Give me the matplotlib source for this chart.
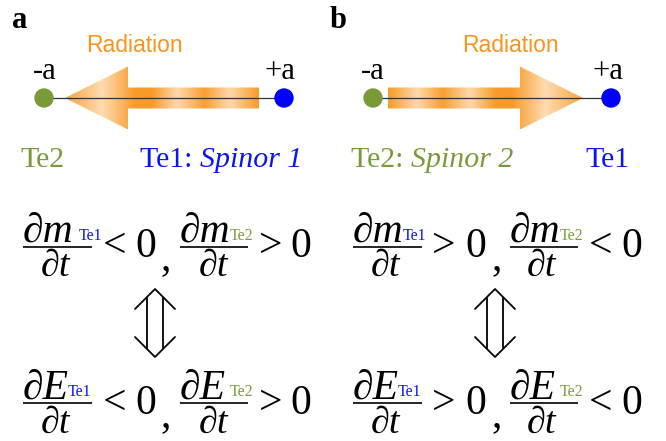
import numpy as np
import matplotlib
matplotlib.use('Agg')
import matplotlib.pyplot as plt
from matplotlib.patches import Polygon, Circle
from matplotlib.colors import LinearSegmentedColormap

# ---------------- content ----------------
panel_labels = ['a', 'b']
end_labels = ['-a', '+a']
radiation_label = 'Radiation'
radiation_dir = [-1, 1]                  # a: towards -a, b: towards +a
left_atom = [[('Te2', 'normal')], [('Te2: ', 'normal'), ('Spinor 2', 'italic')]]
right_atom = [[('Te1: ', 'normal'), ('Spinor 1', 'italic')], [('Te1', 'normal')]]
quantities = ['m', 'E']
subscripts = ['Te1', 'Te2']
relations = [['<', '>'], ['>', '<']]     # panel a, panel b (Te1, Te2)

BLUE = '#0a14f5'
GREEN = '#7a9a3a'
ORANGE = '#f7941d'
SERIF = ['Liberation Serif', 'DejaVu Serif']
SANS = ['Liberation Sans', 'DejaVu Sans']
EQ = 30
DEN = 27.5
SUB = 11.5

fig = plt.figure(figsize=(6.66, 4.41), dpi=100)
ax = fig.add_axes([0, 0, 1, 1])
ax.set_xlim(0, 666)
ax.set_ylim(441, 0)
ax.axis('off')


def txt(x, y, s, size, color='black', style='normal', ha='left', va='baseline',
        weight='normal', family=SERIF):
    return ax.text(x, y, s, fontsize=size, color=color, fontstyle=style, ha=ha, va=va,
                   fontweight=weight, family=family)


renderer = fig.canvas.get_renderer()


def pieces(x, y, parts, size, color):
    for s, st in parts:
        t = txt(x, y, s, size, color, style=st)
        bb = t.get_window_extent(renderer)
        x += bb.width


# gradient for the arrows
cmap = LinearSegmentedColormap.from_list('rad', ['#fee3c2', '#f89b2a'])
stops_pos = [0.0, 0.15, 0.28, 0.42, 0.55, 0.64, 0.81, 1.0]
stops_val = [1.0, 0.15, 0.95, 0.15, 1.0, 1.0, 0.1, 0.9]


def rad_arrow(tail, tip, yc=98, shaft_h=10.5, head_h=31.5, head_len=63):
    d = np.sign(tip - tail)
    base = tip - d * head_len
    pts = [(tail, yc - shaft_h), (base, yc - shaft_h), (base, yc - head_h), (tip, yc),
           (base, yc + head_h), (base, yc + shaft_h), (tail, yc + shaft_h)]
    poly = Polygon(pts, closed=True, facecolor='none', edgecolor='none')
    ax.add_patch(poly)
    n = 400
    f = np.linspace(0, 1, n)
    vals = np.interp(f, stops_pos, stops_val)
    if d < 0:
        vals = vals[::-1]
    x0, x1 = min(tail, tip), max(tail, tip)
    im = ax.imshow(vals[None, :], cmap=cmap, vmin=0, vmax=1, aspect='auto',
                   extent=(x0, x1, yc + head_h, yc - head_h), interpolation='bilinear',
                   zorder=1)
    im.set_clip_path(poly)


def frac(xl, xr, yline, sym, sub, subx, subcol, numx, denc):
    txt(numx, yline - 4.5, '\u2202' + sym, EQ, style='italic')
    txt(subx, yline - 6.5, sub, SUB, subcol)
    ax.plot([xl, xr], [yline, yline], color='black', lw=1.2, solid_capstyle='butt')
    txt(denc, yline + 29.5, '\u2202t', DEN, style='italic', ha='center')


def dbl_arrow(xc, ytop=289, ybot=357, hw=20, hh=20, sw=8):
    kw = dict(color='black', lw=1.3, solid_capstyle='round')
    ax.plot([xc - hw, xc, xc + hw], [ytop + hh, ytop, ytop + hh], **kw)
    ax.plot([xc - hw, xc, xc + hw], [ybot - hh, ybot, ybot - hh], **kw)
    ax.plot([xc - sw, xc - sw], [ytop + 9, ybot - 9], **kw)
    ax.plot([xc + sw, xc + sw], [ytop + 9, ybot - 9], **kw)


# ---------------- panel layout ----------------
panel_x = [12, 330]
rad_cx = [134, 510]
dots = [(44, 284), (373, 611)]
minus_x = [33, 361]
plus_x = [265, 593]
arrow_span = [(259, 65), (388, 583)]
left_x = [20, 351]
right_x = [140, 585]

for p in range(2):
    txt(panel_x[p], 28, panel_labels[p], 22, weight='bold')
    txt(rad_cx[p], 52, radiation_label, 16.5, ORANGE, ha='center', family=SANS)
    txt(minus_x[p], 79, end_labels[0], 22)
    txt(plus_x[p], 79, end_labels[1], 22)
    rad_arrow(*arrow_span[p])
    xl, xr = dots[p]
    ax.plot([xl, xr], [98, 98], color='#333333', lw=0.9, zorder=3)
    ax.add_patch(Circle((xl, 98), 9, color=GREEN, zorder=4))
    ax.add_patch(Circle((xr, 98), 9, color='#0000ff', zorder=4))
    pieces(left_x[p], 167, left_atom[p], 21.5, GREEN)
    pieces(right_x[p], 167, right_atom[p], 21.5, BLUE)

# equations: per panel, per row
eq_layout = {
    0: dict(f1=(23, 92, 56), f2=(180, 248, 213), sub1=[79, 68], sub2=[230, 230],
            r1=103, z1=135, cm=160, r2=259, z2=290, da=155),
    1: dict(f1=(353, 422, 386), f2=(510, 578, 542), sub1=[403, 398], sub2=[560, 560],
            r1=432, z1=465, cm=491, r2=589, z2=621, da=495),
}
row_y = [246.5, 403]

for p in range(2):
    L = eq_layout[p]
    for r, q in enumerate(quantities):
        y = row_y[r]
        xl, xr, dc = L['f1']
        frac(xl, xr, y, q, subscripts[0], L['sub1'][r], BLUE, xl, dc)
        txt(L['r1'], y + 10.5, relations[p][0], EQ)
        txt(L['z1'], y + 10.5, '0', EQ)
        txt(L['cm'], y + 23, ',', EQ)
        xl, xr, dc = L['f2']
        frac(xl, xr, y, q, subscripts[1], L['sub2'][r], GREEN, xl, dc)
        txt(L['r2'], y + 10.5, relations[p][1], EQ)
        txt(L['z2'], y + 10.5, '0', EQ)
    dbl_arrow(L['da'])

fig.savefig('out.png', dpi=100)
